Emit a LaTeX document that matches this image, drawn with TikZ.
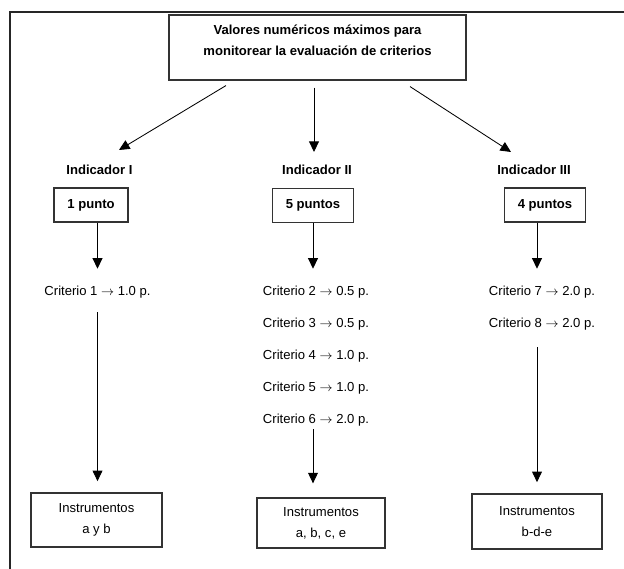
\documentclass[tikz,border=0pt]{standalone}
\usepackage{fontspec}
\setmainfont{Liberation Sans}
\usepackage{tikz}
\usetikzlibrary{arrows.meta, positioning, calc}

\begin{document}
\begin{tikzpicture}[
            x=0.025cm, y=-0.025cm,
            box/.style={draw=black!80, line width=0.8pt, inner sep=0pt},
            head/.style={font=\fontsize{9.3}{15}\selectfont\bfseries, align=center},
            crit/.style={font=\fontsize{9.3}{15}\selectfont, inner sep=2pt},
            inst/.style={box, font=\fontsize{9.3}{15}\selectfont, align=center},
            pts/.style={box, font=\fontsize{9.3}{15}\selectfont\bfseries,
                minimum width=2.025cm, minimum height=0.85cm},
            arr/.style={-{Triangle[width=7pt,length=7.5pt]}, line width=0.6pt},
            frame/.style={line width=1.4pt, black!85}
        ]

        \useasboundingbox (0,0) rectangle (624,569);

        % Outer frame (top and left edges only)
        \draw[frame] (624,12) -- (10,12) -- (10,569);

        % Title
        \node[box, minimum width=7.425cm, minimum height=1.625cm] (title) at (317.5,47.5) {};
        \node[head] (titletext) at (317.5,40) {Valores numéricos máximos para\\monitorear la evaluación de criterios};

        % Indicators
        \node[head] (ind1) at (99.5,170) {Indicador I};
        \node[head] (ind2) at (317,170) {Indicador II};
        \node[head] (ind3) at (534,170) {Indicador III};

        \draw[arr] ($(title.south)+(-91.5,5)$) -- ($(ind1)+(19.5,-20)$);
        \draw[arr] ($(title.south)+(-3.5,7)$) -- ($(ind2)+(-3,-18)$);
        \draw[arr] ($(title.south)+(92.5,6)$) -- ($(ind3)+(-23,-18)$);

        % Points per indicator
        \node[pts, minimum width=1.85cm] (p1) at (91,205) {1 punto};
        \node[pts] (p2) at (313,205.5) {5 puntos};
        \node[pts] (p3) at (545,205) {4 puntos};

        % Criteria
        \node[crit] (c1) at (97.5,292) {Criterio 1 $\rightarrow$ 1.0 p.};

        \node[crit] (c2) at (316,292) {Criterio 2 $\rightarrow$ 0.5 p.};
        \node[crit] (c3) at (316,324) {Criterio 3 $\rightarrow$ 0.5 p.};
        \node[crit] (c4) at (316,356) {Criterio 4 $\rightarrow$ 1.0 p.};
        \node[crit] (c5) at (316,388) {Criterio 5 $\rightarrow$ 1.0 p.};
        \node[crit] (c6) at (316,420) {Criterio 6 $\rightarrow$ 2.0 p.};

        \node[crit] (c7) at (542,292) {Criterio 7 $\rightarrow$ 2.0 p.};
        \node[crit] (c8) at (542,324) {Criterio 8 $\rightarrow$ 2.0 p.};

        % Instruments
        \node[inst, minimum width=3.275cm, minimum height=1.35cm] (b1) at (96.5,520) {Instrumentos\\a y b};
        \node[inst, minimum width=3.2cm, minimum height=1.25cm] (b2) at (321,523) {Instrumentos\\a, b, c, e};
        \node[inst, minimum width=3.25cm, minimum height=1.375cm] (b3) at (537,521.5) {Instrumentos\\b-d-e};

        \draw[arr, shorten >=10pt] (p1.south -| c1) -- (c1.north);
        \draw[arr, shorten >=10pt] (p2.south) -- (p2.south |- c2.north);
        \draw[arr, shorten >=10pt] (p3.south -| b3) -- (b3 |- c7.north);

        \draw[arr, shorten <=8pt, shorten >=8pt] (c1.south) -- (c1.south |- b1.north);
        \draw[arr, shorten >=10pt] (c6.south -| p2) -- (b2.north -| p2);
        \draw[arr, shorten <=10pt, shorten >=8pt] (b3.north |- c8.south) -- (b3.north);

    \end{tikzpicture}
\end{document}
